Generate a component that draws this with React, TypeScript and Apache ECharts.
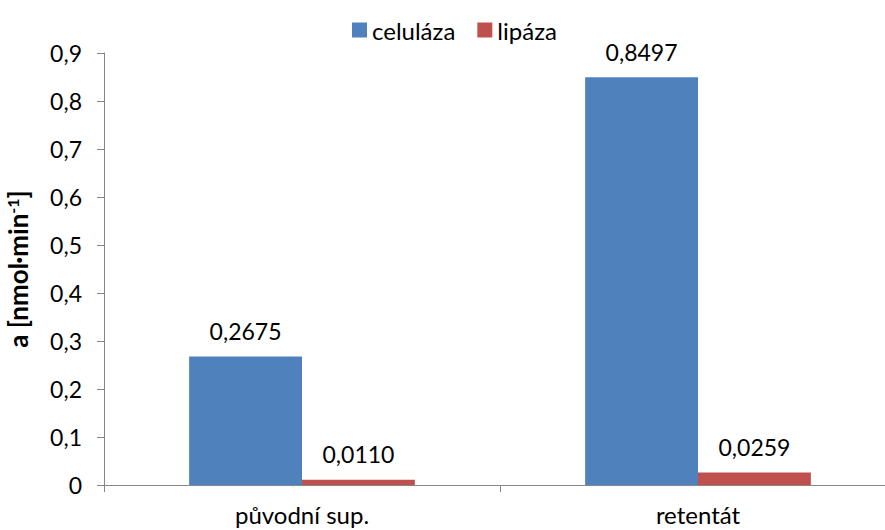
import React, { useEffect, useRef } from "react";
import * as echarts from "echarts";

const categories = ["původní sup.", "retentát"];
const seriesNames = ["celuláza", "lipáza"];
const celulaza = [0.2675, 0.8497];
const lipaza = [0.011, 0.0259];
const yTicks = { min: 0, max: 0.9, interval: 0.1 };

const FONT = "Lato, 'Open Sans', sans-serif";

export default function App() {
  const ref = useRef<HTMLDivElement>(null);
  useEffect(() => {
    if (!ref.current) return;
    const chart = echarts.init(ref.current, undefined, { renderer: "svg" });
    const fmt = (v: number) => v.toFixed(4).replace(".", ",");
    const labelCfg = {
      show: true,
      position: "top",
      distance: 14,
      color: "#000",
      fontSize: 23,
      fontFamily: FONT,
      formatter: (p: any) => fmt(p.value),
    };
    chart.setOption({
      animation: false,
      textStyle: { fontFamily: FONT },
      legend: {
        top: 13,
        left: 347,
        itemWidth: 15,
        itemHeight: 15,
        itemGap: 22,
        icon: "rect",
        textStyle: { fontSize: 24, color: "#000", fontFamily: FONT, padding: [0, 0, 0, 0] },
        data: seriesNames,
      },
      grid: { left: 104, right: 0, top: 53, bottom: 45, containLabel: false, outerBoundsMode: "none" },
      xAxis: {
        type: "category",
        data: categories,
        axisLine: { lineStyle: { color: "#868686", width: 1 } },
        axisTick: { show: true, length: 7, lineStyle: { color: "#868686" } },
        axisLabel: { fontSize: 24, color: "#000", margin: 17, fontFamily: FONT },
      },
      yAxis: {
        type: "value",
        min: yTicks.min,
        max: yTicks.max,
        interval: yTicks.interval,
        splitLine: { show: false },
        axisLine: { show: true, lineStyle: { color: "#868686", width: 1 } },
        axisTick: { show: true, length: 7, lineStyle: { color: "#868686" } },
        axisLabel: {
          fontSize: 23,
          color: "#000",
          margin: 22,
          fontFamily: FONT,
          formatter: (v: number) => (v === 0 ? "0" : v.toFixed(1).replace(".", ",")),
        },
        name: "{b|a [nmol·min}{s|-1}{b|]}",
        nameLocation: "middle",
        nameRotate: 90,
        nameGap: 72,
        nameTextStyle: {
          rich: {
            b: { fontSize: 26, fontWeight: "bold", color: "#000", fontFamily: FONT },
            s: { fontSize: 16, fontWeight: "bold", color: "#000", fontFamily: FONT, verticalAlign: "top", padding: [0, 0, 12, 0] },
          },
        },
      },
      series: [
        {
          name: seriesNames[0],
          type: "bar",
          data: celulaza,
          barGap: "0%",
          barCategoryGap: "43%",
          itemStyle: { color: "#4F81BD" },
          label: labelCfg,
        },
        {
          name: seriesNames[1],
          type: "bar",
          data: lipaza,
          barGap: "0%",
          barCategoryGap: "43%",
          itemStyle: { color: "#C0504D" },
          label: labelCfg,
        },
      ],
    });
    return () => chart.dispose();
  }, []);
  return (
    <div style={{ position: "absolute", left: 0, top: 0, width: 885, height: 530, overflow: "hidden", background: "#fff" }}>
      <div ref={ref} style={{ position: "absolute", left: 0, top: 0, width: 896, height: 530 }} />
    </div>
  );
}
